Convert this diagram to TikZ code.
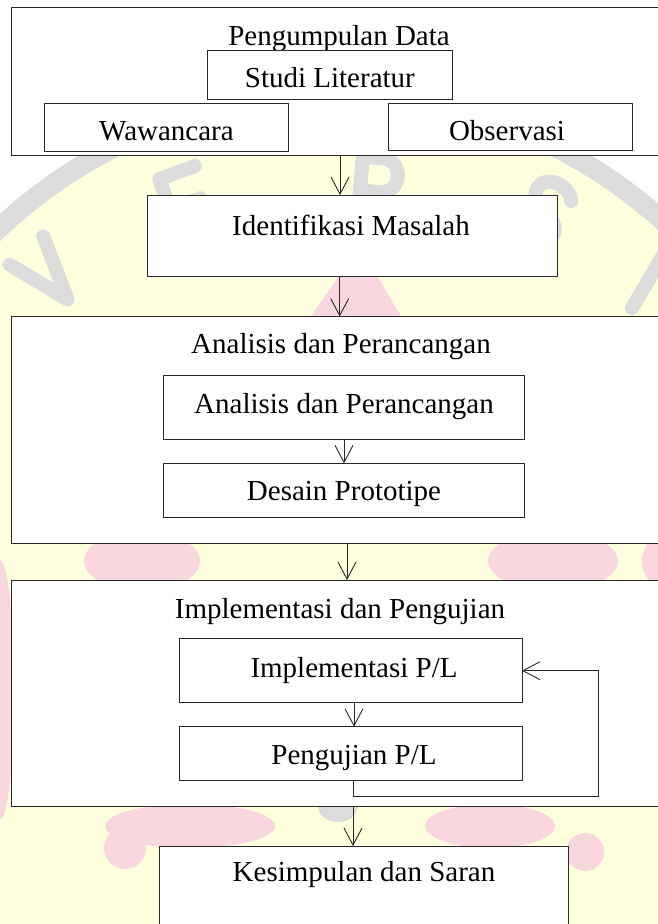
\documentclass[tikz,border=0pt]{standalone}
\usepackage{fontspec}
\setmainfont{Liberation Serif}
\usetikzlibrary{arrows.meta}
\definecolor{wmY}{RGB}{255,255,222}
\definecolor{wmP}{RGB}{250,214,222}
\definecolor{wmG}{RGB}{220,220,220}
\definecolor{lineC}{RGB}{40,40,40}
\begin{document}
\begin{tikzpicture}[x=1pt,y=-1pt,
  box/.style={draw=lineC, line width=0.9pt, fill=white, rectangle, inner sep=0pt, outer sep=0pt},
  txt/.style={font=\fontsize{29}{34}\selectfont, inner sep=0pt, anchor=base, text=black},
  arr/.style={draw=lineC, line width=0.9pt, -{Straight Barb[length=17pt,width=18pt]}},
  wml/.style={draw=wmG, line width=14pt, line cap=round, line join=round}]
\useasboundingbox (0,0) rectangle (658,924);
\clip (0,0) rectangle (658,924);
% ---- watermark ----
\fill[white] (0,0) rectangle (658,924);
\fill[wmY] (335,585) circle[radius=490pt];
\fill[wmP] (298,335) -- (343,270) .. controls (352,258) and (366,258) .. (374,270) -- (412,335) -- cycle;
\fill[wmP] (142,561) ellipse [x radius=58pt, y radius=30pt];
\fill[wmP] (553,561) ellipse [x radius=65pt, y radius=30pt];
\fill[wmP] (672,561) ellipse [x radius=30pt, y radius=30pt];
\fill[wmP] (0,690) ellipse [x radius=14pt, y radius=130pt];
\fill[wmP] (190,826) ellipse [x radius=85pt, y radius=22pt];
\fill[wmP] (125,848) circle [radius=21pt];
\fill[wmP] (490,826) ellipse [x radius=65pt, y radius=22pt];
\fill[wmP] (585,852) circle [radius=19pt];
\fill[wmG] (338,806) ellipse [x radius=20pt, y radius=16pt];
\draw[wmG, line width=20pt] (335,585) circle[radius=490pt];
\begin{scope}[shift={(47,275)}, rotate=40]
  \draw[wml] (-22,-32) -- (0,32) -- (22,-32);
\end{scope}
\begin{scope}[shift={(187,203)}, rotate=20]
  \draw[wml] (20,-32) -- (-18,-32) -- (-18,32) -- (20,32) (-18,0) -- (14,0);
\end{scope}
\begin{scope}[shift={(378,190)}, rotate=-5]
  \draw[wml] (-18,32) -- (-18,-32) -- (2,-32) .. controls (24,-32) and (24,2) .. (2,2) -- (-18,2) (2,2) -- (20,32);
\end{scope}
\begin{scope}[shift={(545,212)}, rotate=-28]
  \draw[wml] (18,-22) .. controls (12,-34) and (-18,-36) .. (-18,-16) .. controls (-18,0) and (18,-2) .. (18,16) .. controls (18,36) and (-14,36) .. (-20,22);
\end{scope}
\draw[wml] (632,308) -- (690,210);
% ---- boxes ----
\node[box, minimum width=656.3pt, minimum height=148pt] (b1) at (339.85,81) {};
\node[txt] (tb1) at (339,45) {Pengumpulan Data};
\node[box, minimum width=244.3pt, minimum height=49pt] (studi) at (329.85,74.5) {};
\node[txt] (tstudi) at (329.85,87.3) {Studi Literatur};
\node[box, minimum width=244.4pt, minimum height=47.7pt] (waw) at (166.5,127.15) {};
\node[txt] (twaw) at (166.5,140.7) {Wawancara};
\node[box, minimum width=244.7pt, minimum height=47.4pt] (obs) at (510.35,127) {};
\node[txt] (tobs) at (507,140.7) {Observasi};
\node[box, minimum width=409.6pt, minimum height=81.7pt] (ident) at (352.5,235.85) {};
\node[txt] (tident) at (351,235) {Identifikasi Masalah};
\node[box, minimum width=656.3pt, minimum height=226.5pt] (anOuter) at (339.85,429.75) {};
\node[txt] (tanOuter) at (341,353) {Analisis dan Perancangan};
\node[box, minimum width=360.7pt, minimum height=63.6pt] (anInner) at (343.65,407.5) {};
\node[txt] (tanInner) at (344,413) {Analisis dan Perancangan};
\node[box, minimum width=360.7pt, minimum height=54pt] (desain) at (343.65,490.3) {};
\node[txt] (tdesain) at (344,500.7) {Desain Prototipe};
\node[box, minimum width=656.3pt, minimum height=226pt] (imOuter) at (339.85,693) {};
\node[txt] (timOuter) at (340,618) {Implementasi dan Pengujian};
\node[box, minimum width=342.7pt, minimum height=64.7pt] (impl) at (350.65,670.35) {};
\node[txt] (timpl) at (354,677) {Implementasi P/L};
\node[box, minimum width=342.7pt, minimum height=53.3pt] (peng) at (350.65,753.35) {};
\node[txt] (tpeng) at (354,764) {Pengujian P/L};
\node[box, minimum width=409pt, minimum height=124pt] (kes) at (363.5,908) {};
\node[txt] (tkes) at (364,881) {Kesimpulan dan Saran};
% ---- connectors ----
\coordinate (ax1) at (340,0);
\coordinate (ax2) at (339.7,0);
\coordinate (ax3) at (344,0);
\coordinate (ax4) at (347,0);
\coordinate (ax5) at (354,0);
\coordinate (ax6) at (353,0);
\draw[arr] (b1.south -| ax1) -- (ident.north -| ax1);
\draw[arr] (ident.south -| ax2) -- (anOuter.north -| ax2);
\draw[arr] (anInner.south -| ax3) -- (desain.north -| ax3);
\draw[arr] (anOuter.south -| ax4) -- (imOuter.north -| ax4);
\draw[arr] (impl.south -| ax5) -- (peng.north -| ax5);
\draw[arr] (imOuter.south -| ax6) -- (kes.north -| ax6);
\coordinate (lp1) at (353,796);
\coordinate (lp2) at (598,796);
\coordinate (lp3) at (598,670.7);
\draw[arr] (peng.south -| lp1) -- (lp1) -- (lp2) -- (lp3) -- (impl.east |- lp3);
\end{tikzpicture}
\end{document}
